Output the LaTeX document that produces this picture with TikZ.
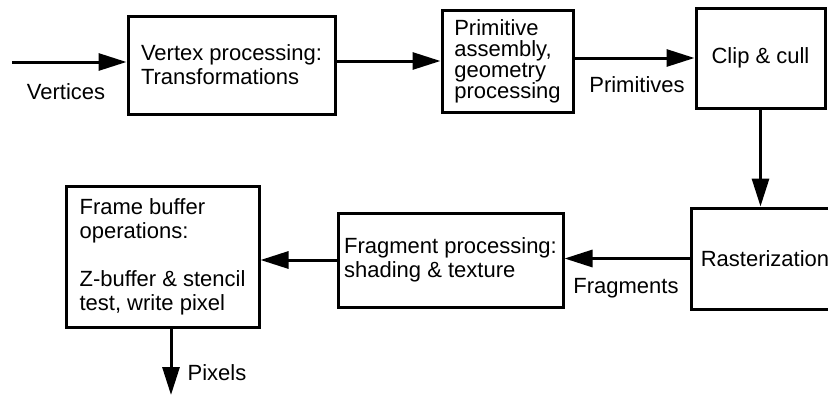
\documentclass[tikz,border=0pt]{standalone}
\usepackage{fontspec}
\setmainfont{Liberation Sans}
\usepackage{tikz}
\usetikzlibrary{arrows.meta}
\tikzset{every node/.append style={font=\fontsize{11}{12}\selectfont}}
\tikzset{stage/.style={draw, line width=1.5pt, align=left, inner sep=0pt}}

\begin{document}
\begin{tikzpicture}[x=0.5pt, y=-0.5pt, line width=1.5pt, >={Triangle[length=14pt,width=8.5pt]}]
    \useasboundingbox (0,0) rectangle (828,396);
    % top row
    \node[stage, minimum width=103.5pt, minimum height=49pt] (vert) at (231.5,65) {Vertex processing:\\Transformations};
    \node[stage, minimum width=65.5pt, minimum height=51pt, font=\fontsize{11}{10.5}\selectfont] (prim) at (507.5,61) {Primitive\\assembly,\\geometry\\processing};
    \node[stage, minimum width=64.5pt, minimum height=50pt, align=center] (clip) at (760.5,58) {Clip \& cull};
    % bottom row
    \node[stage, minimum width=74pt, minimum height=50.5pt, align=center] (rast) at (765,258.5) {Rasterization};
    \node[stage, minimum width=112.5pt, minimum height=47pt] (frag) at (450.5,260) {Fragment processing:\\shading \& texture};
    \node[stage, minimum width=96.5pt, minimum height=70.5pt] (fb) at (162.5,256.5) {Frame buffer\\operations:\\[12pt]Z-buffer \& stencil\\test, write pixel};
    \coordinate (vin) at (12,62);
    \coordinate (pout) at (171,395);
    % connectors
    \draw[->] (vin) -- (vin -| vert.west);
    \draw[->] (prim.west -| vert.east) -- (prim.west);
    \draw[->] (clip.west -| prim.east) -- (clip.west);
    \draw[->] (clip.south) -- (clip.south |- rast.north);
    \draw[->] (rast.west) -- (rast.west -| frag.east);
    \draw[->] (frag.west) -- (frag.west -| fb.east);
    \draw[->] (fb.south -| pout) -- (pout);
    % labels
    \node[anchor=base] (vlbl) at (66,99) {Vertices};
    \node[anchor=base] (plbl) at (637,92) {Primitives};
    \node[anchor=base] (flbl) at (626,293) {Fragments};
    \node[anchor=base] (xlbl) at (217,380) {Pixels};
\end{tikzpicture}
\end{document}
